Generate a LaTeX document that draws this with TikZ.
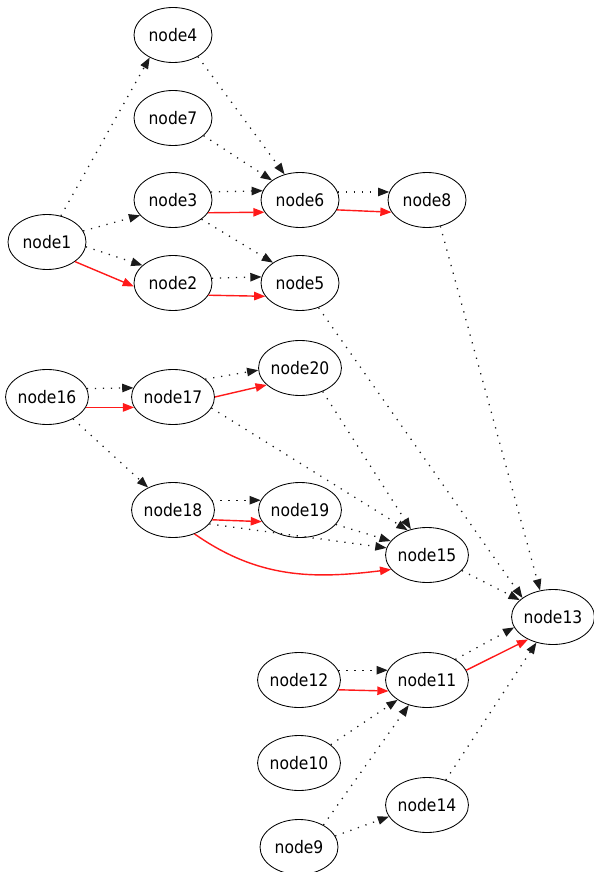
\documentclass[tikz,border=0pt]{standalone}
\usepackage{fontspec}
\newfontfamily\nodefont[FakeStretch=0.9]{DejaVu Sans}
\usetikzlibrary{arrows.meta, positioning, shapes.geometric}
\definecolor{DepGray}{HTML}{1A1A1A}
\definecolor{CritRed}{HTML}{FF1A1A}

\begin{document}
\begin{tikzpicture}[
    on grid,
    task/.style={
      ellipse, draw=black, line width=0.6pt, inner sep=0pt,
      minimum width=1.95cm, minimum height=1.375cm, font=\nodefont\fontsize{12.3}{14}\selectfont
    },
    dep/.style={-{Triangle[length=0.28cm, width=0.21cm]}, line width=0.9pt,
      dash pattern=on 0.9pt off 4.8pt, color=DepGray},
    crit/.style={-{Triangle[length=0.28cm, width=0.21cm]}, line width=1pt, color=CritRed}
  ]
    \useasboundingbox (0,0) rectangle (14.825,-21.8);

    \node[task] (n1) at (1.175,-6.05) {node1};
    \node[task, above right=1.05cm and 3.15cm of n1] (n3) {node3};
    \node[task, below right=1.025cm and 3.15cm of n1] (n2) {node2};
    \node[task, above=2.05cm of n3] (n7) {node7};
    \node[task, above=2.075cm of n7] (n4) {node4};
    \node[task, right=3.175cm of n3] (n6) {node6};
    \node[task, right=3.175cm of n2] (n5) {node5};
    \node[task, right=3.175cm of n6] (n8) {node8};

    \node[task, below=3.875cm of n1] (n16) {node16};
    \node[task, right=3.15cm of n16] (n17) {node17};
    \node[task, above right=0.725cm and 3.175cm of n17] (n20) {node20};
    \node[task, below=2.825cm of n17] (n18) {node18};
    \node[task, right=3.175cm of n18] (n19) {node19};
    \node[task, below right=1.125cm and 3.175cm of n19] (n15) {node15};
    \node[task, below right=1.55cm and 3.15cm of n15] (n13) {node13};

    \node[task, below=3.125cm of n15] (n11) {node11};
    \node[task, left=3.2cm of n11] (n12) {node12};
    \node[task, below=2.075cm of n12] (n10) {node10};
    \node[task, below=2.1cm of n10] (n9) {node9};
    \node[task, below=3.125cm of n11] (n14) {node14};

    \draw[dep] (n1.62) -- (n4.224);
    \draw[dep] (n1.17) -- (n3.205);
    \draw[dep] (n1.-7) -- (n2.150);
    \draw[crit] (n1.-35) -- (n2.185);
    \draw[dep] (n4.-41) -- (n6.121);
    \draw[dep] (n7.-30) -- (n6.145);
    \draw[dep] (n3.12) -- (n6.166);
    \draw[crit] (n3.-20) -- (n6.199);
    \draw[dep] (n3.-34) -- (n5.143);
    \draw[dep] (n2.7) -- (n5.171);
    \draw[crit] (n2.-19) -- (n5.201);
    \draw[dep] (n6.12) -- (n8.168);
    \draw[crit] (n6.-15) -- (n8.199);
    \draw[dep] (n8.-63) -- (n13.116);
    \draw[dep] (n5.-53) -- (n13.148);

    \draw[dep] (n16.12) -- (n17.167);
    \draw[crit] (n16.-15) -- (n17.195);
    \draw[dep] (n17.29) -- (n20.183);
    \draw[crit] (n17.0) -- (n20.207);
    \draw[dep] (n17.-16) -- (n15.128);
    \draw[dep] (n20.-46) -- (n15.122);
    \draw[dep] (n16.-40) -- (n18.138);
    \draw[dep] (n18.14) -- (n19.166);
    \draw[crit] (n18.-14) -- (n19.197);
    \draw[dep] (n18.-21) -- (n15.170);
    \draw[dep] (n19.-22) -- (n15.159);
    \draw[crit] (n18.-48) to[out=-35, in=187] (n15.202);
    \draw[dep] (n15.-24) -- (n13.153);

    \draw[dep] (n12.14) -- (n11.166);
    \draw[crit] (n12.-14) -- (n11.196);
    \draw[dep] (n11.36) -- (n13.195);
    \draw[crit] (n11.14) -- (n13.222);
    \draw[dep] (n10.30) -- (n11.214);
    \draw[dep] (n9.42) -- (n11.234);
    \draw[dep] (n9.17) -- (n14.197);
    \draw[dep] (n14.53) -- (n13.237);
  \end{tikzpicture}
\end{document}
